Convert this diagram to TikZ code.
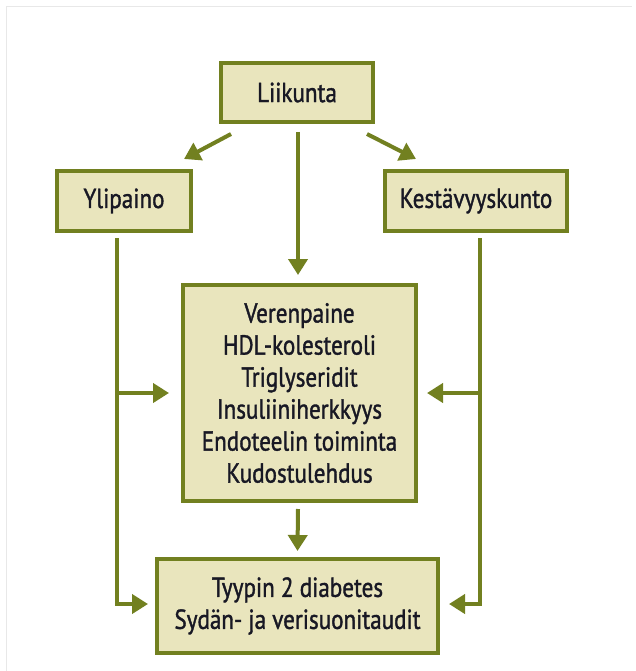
\documentclass[tikz,border=0pt]{standalone}
\usepackage{fontspec}
\setmainfont[FakeStretch=0.84,FakeBold=1.3]{PT Sans}
\usepackage{tikz}
\usetikzlibrary{arrows.meta,positioning,calc}

\definecolor{oliv}{RGB}{114,128,32}
\definecolor{paper}{RGB}{233,229,189}
\definecolor{ink}{RGB}{24,24,36}
\definecolor{rim}{RGB}{232,232,232}

\tikzset{
  laatikko/.style={draw=oliv, line width=4pt, fill=paper, text=ink, align=center,
    inner sep=0pt, font=\fontsize{27.5}{32}\selectfont},
  nuoli/.style={draw=oliv, line width=4pt, -{Triangle[length=16pt,width=19pt]}},
}

\begin{document}
\begin{tikzpicture}[x=1pt,y=-1pt]
  \useasboundingbox (0,0) rectangle (635,671);
  \draw[rim, line width=1pt] (6,671) -- (6,7) -- (632,7);

  \node[laatikko, minimum width=152pt, minimum height=59pt] (liikunta) at (297,92.5) {Liikunta};
  \node[laatikko, minimum width=134pt, minimum height=60pt] (ylipaino) at (124,201) {Ylipaino};
  \node[laatikko, minimum width=182pt, minimum height=60pt] (kunto) at (476,201) {Kestävyyskunto};
  \node[laatikko, minimum width=233pt, minimum height=216pt] (tekijat) at (299.5,393)
    {Verenpaine\\HDL-kolesteroli\\Triglyseridit\\Insuliiniherkkyys\\Endoteelin toiminta\\Kudostulehdus};
  \node[laatikko, minimum width=281pt, minimum height=94pt] (sairaudet) at (297.5,606)
    {Tyypin 2 diabetes\\Sydän- ja verisuonitaudit};

  % liikunnasta alaspain
  \draw[nuoli] ([xshift=12pt,yshift=-10pt]liikunta.south west) -- ([xshift=-9pt,yshift=10pt]ylipaino.north east);
  \draw[nuoli] ([xshift=-8pt,yshift=-10pt]liikunta.south east) -- ([xshift=33pt,yshift=10pt]kunto.north west);
  \draw[nuoli] ([xshift=1pt,yshift=-8pt]liikunta.south) -- ([xshift=-1.5pt,yshift=8pt]tekijat.north);
  \draw[nuoli] ([xshift=-1.5pt,yshift=-6pt]tekijat.south) -- ([yshift=6pt]sairaudet.north);

  % sivulinjat
  \coordinate (yv) at ([xshift=-7pt,yshift=-5pt]ylipaino.south);
  \coordinate (kv) at ([xshift=4pt,yshift=-5pt]kunto.south);
  \draw[nuoli] (yv) |- ([xshift=-7pt,yshift=2pt]sairaudet.west);
  \draw[nuoli] (yv |- tekijat.west) -- ([xshift=-12pt]tekijat.west);
  \draw[nuoli] (kv) |- ([xshift=9pt,yshift=2pt]sairaudet.east);
  \draw[nuoli] (kv |- tekijat.east) -- ([xshift=9pt]tekijat.east);
\end{tikzpicture}
\end{document}
